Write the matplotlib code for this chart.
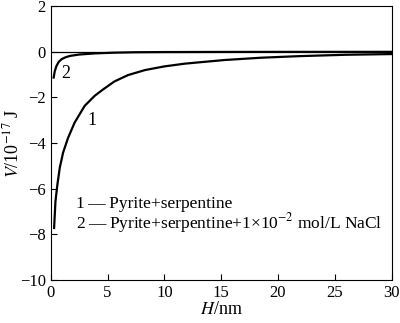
import matplotlib.pyplot as plt

plt.rcParams['font.family'] = ['Liberation Serif', 'DejaVu Serif']
plt.rcParams['mathtext.fontset'] = 'stix'

# curve 1: Pyrite+serpentine
h1 = [0.29, 0.41, 0.58, 0.79, 1.08, 1.52, 2.1, 2.98, 3.86, 4.6, 5.6, 6.8,
      8.3, 10.0, 11.8, 13.1, 15.3, 18.5, 21.9, 26.0, 30.0]
v1 = [-7.72, -6.55, -5.82, -5.08, -4.42, -3.77, -3.1, -2.37, -1.93, -1.65, -1.3, -1.02,
      -0.8, -0.64, -0.52, -0.46, -0.36, -0.26, -0.19, -0.13, -0.1]

# curve 2: Pyrite+serpentine+NaCl
h2 = [0.25, 0.35, 0.5, 0.7, 0.96, 1.3, 1.7, 2.5, 3.9, 5.5, 7.4, 10.0, 15.0, 20.0, 30.0]
v2 = [-1.13, -0.85, -0.62, -0.44, -0.32, -0.24, -0.18, -0.12, -0.07, -0.04, -0.02, -0.012, -0.006, -0.004, -0.002]

xticks = [0, 5, 10, 15, 20, 25, 30]
yticks = [2, 0, -2, -4, -6, -8, -10]

fig = plt.figure(figsize=(4, 3.23), dpi=100)
ax = fig.add_axes([0.127, 0.133, 0.852, 0.848])

ax.axhline(0, color='black', lw=0.9)
ax.plot(h1, v1, color='black', lw=1.6)
ax.plot(h2, v2, color='black', lw=1.6)

ax.text(3.6, -3.0, '1', fontsize=13, ha='center', va='center')
ax.text(1.3, -0.97, '2', fontsize=13, ha='center', va='center')

ax.text(2.2, -6.68, '1\u2009—\u2009Pyrite+serpentine', fontsize=12.5, va='center')
ax.text(2.2, -7.52, '2\u2009—\u2009Pyrite+serpentine+1×10$^{-2}$ mol/L NaCl', fontsize=12.5, va='center')

ax.set_xlim(0, 30)
ax.set_ylim(-10, 2)
ax.set_xticks(xticks)
ax.set_yticks(yticks)
ax.tick_params(direction='in', labelsize=12, length=4)
ax.set_xlabel('$\\mathit{H}$/nm', fontsize=13, labelpad=0)
ax.set_ylabel('$\\mathit{V}$/10$^{-17}$ J', fontsize=13, labelpad=-2)

plt.savefig('out.png', dpi=100)
